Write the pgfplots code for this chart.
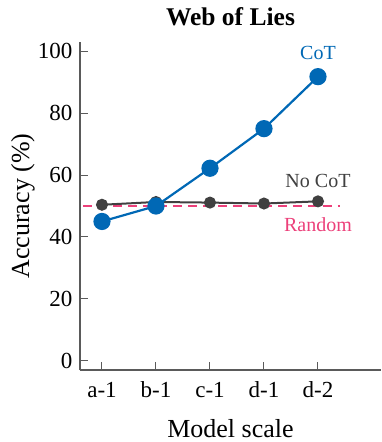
\documentclass[border=0pt]{standalone}
\usepackage{fontspec}
\setmainfont{Liberation Serif}
\usepackage{pgfplots}
\pgfplotsset{compat=1.18}
\definecolor{cotblue}{RGB}{0,104,181}
\definecolor{nocot}{RGB}{64,64,64}
\definecolor{randpink}{RGB}{236,64,122}
\definecolor{axgray}{RGB}{90,90,90}
\begin{document}
\begin{tikzpicture}
\begin{axis}[
  scale only axis,
  width=301pt, height=328pt,
  xmin=-0.407, xmax=5.167,
  ymin=-3, ymax=103,
  axis x line*=bottom, axis y line*=left,
  axis line style={-, axgray, line width=1.3pt},
  xtick={0,1,2,3,4},
  xticklabels={a-1,b-1,c-1,d-1,d-2},
  ytick={0,20,40,60,80,100},
  yticklabels={0,20,40,60,80,100},
  tick style={axgray, line width=1pt},
  major tick length=8pt,
  tick align=inside,
  /pgf/number format/assume math mode=true,
  tick label style={font=\fontsize{23}{27}\selectfont},
  xticklabel style={anchor=base, yshift=-27pt},
  yticklabel style={xshift=-4pt},
  xlabel={Model scale},
  ylabel={Accuracy (\%)},
  label style={font=\fontsize{26}{30}\selectfont},
  xlabel style={at={(rel axis cs:0.5,0)}, anchor=base, yshift=-67pt},
  ylabel style={at={(rel axis cs:0,0.5)}, anchor=center, yshift=57pt},
  title={\textbf{Web of Lies}},
  title style={font=\fontsize{25.5}{30}\selectfont, at={(rel axis cs:0.5,1)}, anchor=base, yshift=10pt},
  clip=false,
]
\coordinate (bl) at (rel axis cs:0,0);
\coordinate (tr) at (rel axis cs:1,1);
\addplot[randpink, line width=1.8pt, dash pattern=on 9pt off 6pt, forget plot] coordinates {(-0.352,50) (4.407,50)};
\addplot[nocot, line width=2pt, mark=*, mark size=5pt, mark options={solid, fill=nocot}] coordinates {
(0,50.4) (1,51.3) (2,51.1) (3,50.8) (4,51.5)};
\addplot[cotblue, line width=2.2pt, mark=*, mark size=7.5pt, mark options={solid, fill=cotblue}] coordinates {
(0,45.0) (1,50.0) (2,62.2) (3,75.0) (4,91.8)};
\node[cotblue, anchor=base, font=\fontsize{20}{24}\selectfont] at (axis cs:4,97.2) {CoT};
\node[nocot, anchor=base, font=\fontsize{20}{24}\selectfont] at (axis cs:4,56.1) {No CoT};
\node[randpink, anchor=base, font=\fontsize{20}{24}\selectfont] at (axis cs:4,41.6) {Random};
\end{axis}
\pgfresetboundingbox
\path ([shift={(-80pt,-72pt)}]bl) rectangle ([shift={(0pt,42pt)}]tr);
\end{tikzpicture}
\end{document}
